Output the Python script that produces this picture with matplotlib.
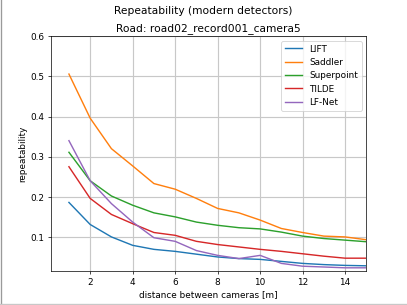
import matplotlib
matplotlib.use("Agg")
import matplotlib.pyplot as plt
from matplotlib.lines import Line2D

# distance between cameras [m]
distance = [1, 2, 3, 4, 5, 6, 7, 8, 9, 10, 11, 12, 13, 14, 15]

# repeatability per detector
lift = [0.186, 0.131, 0.100, 0.079, 0.069, 0.064, 0.057, 0.050, 0.046, 0.044,
        0.039, 0.034, 0.031, 0.029, 0.028]
saddler = [0.506, 0.396, 0.320, 0.277, 0.233, 0.219, 0.196, 0.171, 0.160, 0.142,
           0.121, 0.111, 0.102, 0.100, 0.093]
superpoint = [0.311, 0.240, 0.202, 0.179, 0.160, 0.150, 0.137, 0.129, 0.123, 0.120,
              0.112, 0.102, 0.096, 0.092, 0.088]
tilde = [0.275, 0.196, 0.156, 0.133, 0.111, 0.104, 0.089, 0.081, 0.075, 0.069,
         0.064, 0.058, 0.052, 0.047, 0.047]
lfnet = [0.340, 0.240, 0.183, 0.137, 0.098, 0.089, 0.066, 0.054, 0.046, 0.054,
         0.034, 0.027, 0.025, 0.023, 0.023]

labels = ["LIFT", "Saddler", "Superpoint", "TILDE", "LF-Net"]
series = [lift, saddler, superpoint, tilde, lfnet]

fig, ax = plt.subplots(figsize=(6.4, 4.8), dpi=63.6)

for vals, name in zip(series, labels):
    ax.plot(distance, vals, label=name, lw=1.6)

fig.suptitle("Repeatability (modern detectors)")
ax.set_title("Road: road02_record001_camera5")
ax.set_xlabel("distance between cameras [m]")
ax.set_ylabel("repeatability")
ax.set_xlim(0.15, 15)
ax.set_ylim(0.014, 0.6)
ax.grid(True, color="#c8c8c8", lw=1.3)
ax.legend(loc="upper right")

# grey frame lines on the left and bottom edge of the picture
fig.add_artist(Line2D([0.002, 0.002], [0, 1], transform=fig.transFigure, color="#9a9a9a", lw=1.5))
fig.add_artist(Line2D([0, 1], [0.004, 0.004], transform=fig.transFigure, color="#c8c8c8", lw=1.5))

fig.savefig("out.png", dpi=63.6)
